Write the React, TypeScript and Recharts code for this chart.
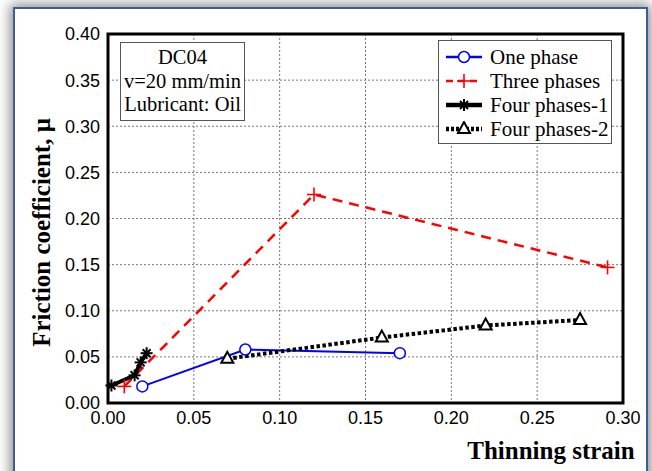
import { CartesianGrid, Legend, Line, LineChart, ReferenceArea, XAxis, YAxis } from 'recharts';

type Pt = { x: number; y: number };

const onePhase: Pt[] = [
  { x: 0.02, y: 0.018 },
  { x: 0.08, y: 0.058 },
  { x: 0.17, y: 0.054 },
];
const threePhases: Pt[] = [
  { x: 0.0095, y: 0.018 },
  { x: 0.12, y: 0.226 },
  { x: 0.291, y: 0.147 },
];
const fourPhases1: Pt[] = [
  { x: 0.002, y: 0.019 },
  { x: 0.0155, y: 0.03 },
  { x: 0.019, y: 0.044 },
  { x: 0.0225, y: 0.054 },
];
const fourPhases2: Pt[] = [
  { x: 0.0695, y: 0.048 },
  { x: 0.1595, y: 0.071 },
  { x: 0.22, y: 0.084 },
  { x: 0.275, y: 0.09 },
];

const xTicks = [0, 0.05, 0.1, 0.15, 0.2, 0.25, 0.3];
const yTicks = [0, 0.05, 0.1, 0.15, 0.2, 0.25, 0.3, 0.35, 0.4];
const yMinorTicks = Array.from({ length: 41 }, (_, i) => i / 100);

const infoLines = ['DC04', 'v=20 mm/min', 'Lubricant: Oil'];
const legendNames = ['One phase', 'Three phases', 'Four phases-1', 'Four phases-2'];

const serif = "'Liberation Serif', 'Times New Roman', serif";
const sans = "'Liberation Sans', Arial, sans-serif";
const titleStyle = { fontFamily: serif, fontWeight: 'bold', fontSize: 25, fill: '#000' };

const circleDot = (p: any) => (
  <circle key={p.key ?? `c${p.index}`} cx={p.cx} cy={p.cy} r={5.5} fill="#fff" stroke="#0000ff" strokeWidth={1.5} />
);
const plusDot = (p: any) => (
  <g key={p.key ?? `p${p.index}`} stroke="#ff0000" strokeWidth={1.6}>
    <line x1={p.cx - 7} y1={p.cy} x2={p.cx + 7} y2={p.cy} />
    <line x1={p.cx} y1={p.cy - 7} x2={p.cx} y2={p.cy + 7} />
  </g>
);
const starDot = (p: any) => (
  <g key={p.key ?? `s${p.index}`} stroke="#000" strokeWidth={2}>
    <line x1={p.cx - 6} y1={p.cy} x2={p.cx + 6} y2={p.cy} />
    <line x1={p.cx} y1={p.cy - 6} x2={p.cx} y2={p.cy + 6} />
    <line x1={p.cx - 4} y1={p.cy - 4} x2={p.cx + 4} y2={p.cy + 4} />
    <line x1={p.cx - 4} y1={p.cy + 4} x2={p.cx + 4} y2={p.cy - 4} />
  </g>
);
const triDot = (p: any) => (
  <polygon
    key={p.key ?? `t${p.index}`}
    points={`${p.cx},${p.cy - 7} ${p.cx - 6},${p.cy + 4} ${p.cx + 6},${p.cy + 4}`}
    fill="#fff"
    stroke="#000"
    strokeWidth={2}
  />
);

const swatches = [
  { stroke: '#0000ff', width: 2.5, dash: undefined, dot: circleDot },
  { stroke: '#ff0000', width: 2.5, dash: '7 5', dot: plusDot },
  { stroke: '#000', width: 4.5, dash: undefined, dot: starDot },
  { stroke: '#000', width: 4.5, dash: '3 2', dot: triDot },
];

function LegendBox() {
  return (
    <div
      style={{
        border: '1.5px solid #555',
        background: '#fff',
        padding: '4px 0 2px 6px',
        fontFamily: serif,
        fontSize: 21,
        lineHeight: '24px',
        width: 166,
        whiteSpace: 'nowrap',
      }}
    >
      {legendNames.map((name, i) => {
        const s = swatches[i];
        return (
          <div key={name} style={{ display: 'flex', alignItems: 'center', height: 24 }}>
            <svg width={38} height={16} style={{ marginRight: 7, flexShrink: 0 }}>
              <line x1={1} y1={8} x2={37} y2={8} stroke={s.stroke} strokeWidth={s.width} strokeDasharray={s.dash} />
              {s.dot({ cx: 19, cy: 8, index: 0, key: 'd' })}
            </svg>
            <span style={{ whiteSpace: 'nowrap' }}>{name}</span>
          </div>
        );
      })}
    </div>
  );
}

export default function App() {
  return (
    <div style={{ position: 'absolute', left: 0, top: 0, width: 652, height: 471, overflow: 'hidden', background: '#fff' }}>
      <div
        style={{
          position: 'absolute',
          left: 13,
          top: 7,
          width: 631,
          height: 480,
          border: '2px solid #3d5c99',
          background: '#fff',
          boxShadow: '0 0 12px 3px rgba(0,0,0,0.45)',
        }}
      />
      <div style={{ position: 'absolute', left: 0, top: 0 }}>
        <LineChart width={652} height={471} margin={{ top: 34, right: 29, bottom: 38, left: 8 }}>
          <CartesianGrid stroke="#777" strokeDasharray="2 2" strokeWidth={1} />
          <XAxis
            type="number"
            dataKey="x"
            domain={[0, 0.3]}
            ticks={xTicks}
            tickFormatter={(v) => v.toFixed(2)}
            axisLine={false}
            tickLine={false}
            height={30}
            tick={{ fill: '#000', fontSize: 18, fontFamily: sans }}
            label={{
              content: (props: any) => {
                const vb = props.viewBox;
                return (
                  <text x={vb.x + vb.width - 72} y={vb.y + 47} textAnchor="middle" dominantBaseline="central" style={titleStyle}>
                    Thinning strain
                  </text>
                );
              },
            }}
          />
          <XAxis xAxisId="b" type="number" domain={[0, 0.3]} ticks={xTicks} mirror tick={false} axisLine={false} tickSize={6} stroke="#000" height={0} />
          <XAxis xAxisId="t" orientation="top" type="number" domain={[0, 0.3]} ticks={xTicks} mirror tick={false} axisLine={false} tickSize={6} stroke="#000" height={0} />
          <YAxis
            type="number"
            domain={[0, 0.4]}
            ticks={yTicks}
            tickFormatter={(v) => v.toFixed(2)}
            axisLine={false}
            tickLine={false}
            width={100}
            tick={{ fill: '#000', fontSize: 18, fontFamily: sans }}
            label={{
              content: (props: any) => {
                const vb = props.viewBox;
                const cy = vb.y + vb.height / 2 + 14;
                return (
                  <text
                    x={41}
                    y={cy}
                    transform={`rotate(-90 41 ${cy})`}
                    textAnchor="middle"
                    dominantBaseline="central"
                    style={titleStyle}
                  >
                    Friction coefficient, μ
                  </text>
                );
              },
            }}
          />
          <YAxis yAxisId="l" type="number" domain={[0, 0.4]} ticks={yMinorTicks} mirror tick={false} axisLine={false} tickSize={4} stroke="#000" width={0} />
          <YAxis yAxisId="r" orientation="right" type="number" domain={[0, 0.4]} ticks={yMinorTicks} mirror tick={false} axisLine={false} tickSize={4} stroke="#000" width={0} />
          <ReferenceArea x1={0} x2={0.3} y1={0} y2={0.4} fill="none" stroke="#000" strokeWidth={3} />
          <Line data={onePhase} dataKey="y" stroke="#0000ff" strokeWidth={2} dot={circleDot} isAnimationActive={false} />
          <Line data={threePhases} dataKey="y" stroke="#ff0000" strokeWidth={2.5} strokeDasharray="10 7" dot={plusDot} isAnimationActive={false} />
          <Line data={fourPhases1} dataKey="y" stroke="#000" strokeWidth={4} dot={starDot} isAnimationActive={false} />
          <Line data={fourPhases2} dataKey="y" stroke="#000" strokeWidth={4} strokeDasharray="3.5 2.5" dot={triDot} isAnimationActive={false} />
          <Legend
            layout="vertical"
            align="center"
            verticalAlign="middle"
            content={() => <LegendBox />}
            wrapperStyle={{ left: 438, top: 40, width: 176 }}
          />
        </LineChart>
      </div>
      <div
        style={{
          position: 'absolute',
          left: 120,
          top: 42,
          width: 123,
          height: 74,
          border: '1.5px solid #555',
          background: '#fff',
          fontFamily: serif,
          fontSize: 20.5,
          lineHeight: '23.5px',
          textAlign: 'center',
          paddingTop: 3,
        }}
      >
        {infoLines.map((t) => (
          <div key={t} style={{ whiteSpace: 'nowrap' }}>{t}</div>
        ))}
      </div>
    </div>
  );
}
